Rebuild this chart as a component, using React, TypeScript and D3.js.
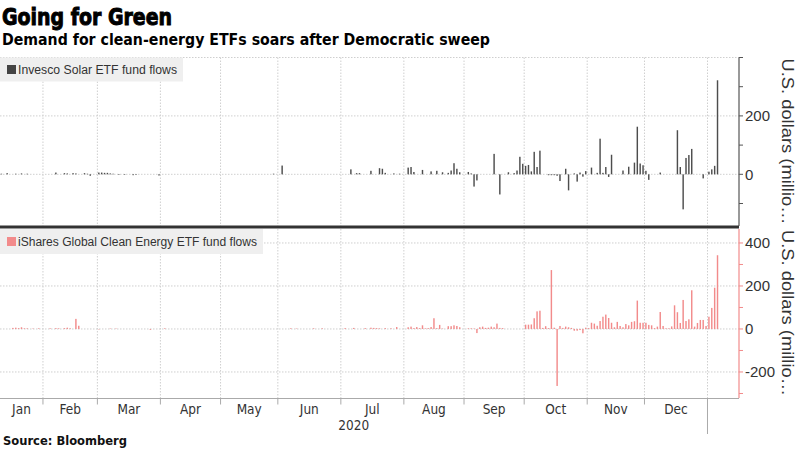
import { useRef, useEffect } from 'react';
import * as d3 from 'd3';

// US market holidays inside the charted range
const marketHolidays = [
  '2020-01-20', '2020-02-17', '2020-04-10', '2020-05-25', '2020-07-03',
  '2020-09-07', '2020-11-26', '2020-12-25', '2021-01-01', '2021-01-18',
];

const monthNames = ['Jan', 'Feb', 'Mar', 'Apr', 'May', 'Jun', 'Jul', 'Aug', 'Sep', 'Oct', 'Nov', 'Dec'];
const yearLabel = '2020';

// daily fund flows, US$ millions, one value per trading day from 2020-01-10
const solarFlows = [
  2, 0, 4, 0, 0, 2, 0, 3, 0, 2, 0, 0, 0, 0, 0, // Jan
  0, 0, 0, 0, 6, 0, 0, 4, 3, 0, 4, 3, 0, 0, 4, 2, -5, 0, 0, // Feb
  6, 6, 5, 5, 3, 2, 0, -2, 0, -2, 0, 0, -3, -2, 0, 0, 0, 0, 0, 0, 0, -4, // Mar
  0, 0, 0, 0, 0, 0, 0, 0, 0, 0, 0, 0, 0, 0, 0, 0, 0, 0, 0, 0, 0, // Apr
  0, 0, 0, 0, 0, 0, 0, 0, 0, 0, 0, 0, 0, 0, 0, 0, 0, 0, 2, 0, // May
  0, 30, 0, 0, 0, 0, 0, 0, 0, 0, 0, 0, 0, 0, 0, 0, 0, 0, 0, 0, 0, 0, // Jun
  0, 0, 0, 17, 0, 4, 4, 0, 0, 0, 12, 0, 0, 21, 19, 5, 0, 0, 3, 0, 2, 0, // Jul
  0, 23, 25, 8, 0, 0, 15, 0, 0, 10, 0, 12, 0, 7, 0, 5, 13, 38, 19, 7, 0, // Aug
  0, 8, 3, -42, -21, 0, 0, 0, 0, 0, 70, 0, -69, 0, 0, 7, 0, 4, 13, 60, 36, // Sep
  29, 32, 10, 77, 25, 81, 0, 0, -3, -3, -3, -5, -23, 0, 19, -55, 0, 3, -25, 6, -8, 11, // Oct
  0, 23, 0, 5, 122, 5, 25, -9, 67, 0, 0, 0, 13, 0, 26, 0, 40, 163, 37, 31, // Nov
  12, -19, 0, 0, 0, 6, 0, 0, 0, 0, 0, 151, 25, -120, 56, 66, 87, 0, 0, 0, -14, 0, // Dec
  9, 17, 29, 322, // Jan 2021
];

const cleanFlows = [
  0, 0, 0, 0, 5, 6, 4, 8, 3, 3, 0, 2, 0, 3, 0, // Jan
  0, 0, 3, 0, 4, 3, 0, 4, 6, 3, 0, 47, 15, 0, 0, 0, 0, 0, 0, // Feb
  -2, 0, 0, 0, 2, 0, 2, 0, 0, 0, 0, 0, 0, 0, 0, 0, 0, 0, -4, 0, 0, 0, // Mar
  0, 3, 0, 0, 0, 0, 0, 0, 0, 0, 0, 0, 0, 0, 0, 0, 0, 0, 0, 0, 0, // Apr
  0, 0, 0, 0, 0, 0, 0, 0, 0, 0, 0, 0, 0, 0, 0, 0, 0, 0, 0, 0, // May
  0, 0, 0, 0, 3, 0, 2, 0, 0, 0, 0, 0, 3, 0, 0, 3, 0, 0, 0, 0, 0, 0, // Jun
  0, 4, 0, 0, 5, 0, 0, 0, 4, 0, 6, 5, 4, 3, 0, 4, 0, 3, 0, 9, 0, 0, // Jul
  0, 8, 11, 4, 9, 4, 17, 3, 4, 9, 50, 4, 19, 2, 0, 13, 13, 17, 14, 8, 0, // Aug
  0, 3, 3, 2, -19, 8, 11, 5, 6, 11, 8, 25, 5, 4, 0, 0, 0, 0, 0, 0, 0, // Sep
  20, 20, 21, 50, 82, 85, 5, 13, 4, 274, 6, -265, 14, 5, 11, 8, 5, -8, -8, -5, -20, 6, // Oct
  4, 29, 25, 15, 37, 57, 67, 51, 29, 8, 33, 14, 8, 23, 17, 33, 36, 132, 29, 29, // Nov
  29, 19, 17, 4, 11, 79, 14, 3, 3, 12, 110, 78, 28, 135, 37, 45, 180, 11, 28, 42, 42, 14, // Dec
  57, 98, 192, 343, // Jan 2021
];

const solarTicks = [-100, 0, 100, 200, 300, 400];
const solarGrid = [0, 200, 400];
const solarLabels = [0, 200];
const cleanTicks = [-300, -200, -100, 0, 100, 200, 300, 400];
const cleanGrid = [-200, 0, 200, 400];
const cleanLabels = [-200, 0, 200, 400];

const FONT = "'Liberation Sans', Arial, sans-serif";
const HEAD = "'DejaVu Sans', 'Liberation Sans', sans-serif";
const NARROW = "'Liberation Sans Narrow', 'DejaVu Sans Condensed', 'Liberation Sans', sans-serif";

export default function App() {
  const svgRef = useRef<SVGSVGElement | null>(null);

  useEffect(() => {
    const width = 800, height = 450;
    const plotRight = 739;

    const svg = d3.select(svgRef.current);
    svg.selectAll('*').remove();
    svg.attr('width', width).attr('height', height).style('font-family', FONT);

    svg.append('rect').attr('width', width).attr('height', height).attr('fill', '#fff');

    // trading-day calendar
    const fmt = d3.utcFormat('%Y-%m-%d');
    const hol = new Set(marketHolidays);
    const days = d3.utcDays(new Date(Date.UTC(2020, 0, 10)), new Date(Date.UTC(2021, 0, 20)))
      .filter(d => d.getUTCDay() % 6 !== 0 && !hol.has(fmt(d)));
    const keys = days.map(fmt);

    const x = d3.scaleBand<string>()
      .domain(keys)
      .range([0, plotRight])
      .paddingInner(0.5)
      .paddingOuter(0.25);
    const step = x.step();
    const edge = (k: string) => (x(k) ?? 0) - step * 0.25;

    // month boundaries
    const monthStarts: { month: number; year: number; x: number }[] = [];
    days.forEach((d, i) => {
      if (i === 0 || d.getUTCMonth() !== days[i - 1].getUTCMonth()) {
        monthStarts.push({ month: d.getUTCMonth(), year: d.getUTCFullYear(), x: i === 0 ? 0 : edge(keys[i]) });
      }
    });

    // titles
    svg.append('text').attr('x', 2).attr('y', 25)
      .attr('font-family', HEAD)
      .style('font-size', '23px').style('font-weight', '700').attr('fill', '#000')
      .attr('stroke', '#000').attr('stroke-width', 1)
      .attr('textLength', 170).attr('lengthAdjust', 'spacingAndGlyphs')
      .text('Going for Green');
    svg.append('text').attr('x', 2).attr('y', 45)
      .attr('font-family', HEAD)
      .style('font-size', '16.5px').style('font-weight', '700').attr('fill', '#000')
      .attr('textLength', 488).attr('lengthAdjust', 'spacingAndGlyphs')
      .text('Demand for clean-energy ETFs soars after Democratic sweep');

    const panels = [
      {
        top: 57.5, bottom: 226, domain: [-177, 400], values: solarFlows,
        color: '#4d4d4d', axisColor: '#555555', legendColor: '#444',
        ticks: solarTicks, grid: solarGrid, labels: solarLabels,
        legend: 'Invesco Solar ETF fund flows', legendW: 183, legendH: 24, legendLen: 159,
      },
      {
        top: 229, bottom: 398, domain: [-321, 465], values: cleanFlows,
        color: '#f28b8b', axisColor: '#f28b8b', legendColor: '#f28b8b',
        ticks: cleanTicks, grid: cleanGrid, labels: cleanLabels,
        legend: 'iShares Global Clean Energy ETF fund flows', legendW: 263, legendH: 25, legendLen: 239,
      },
    ];

    panels.forEach(p => {
      const y = d3.scaleLinear().domain(p.domain).range([p.bottom, p.top]);
      const g = svg.append('g');

      // vertical month gridlines
      g.selectAll('line.vgrid')
        .data(monthStarts.slice(1))
        .join('line')
        .attr('x1', d => d.x).attr('x2', d => d.x)
        .attr('y1', p.top).attr('y2', p.bottom)
        .attr('stroke', '#cfcfcf').attr('stroke-dasharray', '1.5,1.5');

      // horizontal gridlines
      g.selectAll('line.hgrid')
        .data(p.grid)
        .join('line')
        .attr('x1', 0).attr('x2', plotRight)
        .attr('y1', d => y(d)).attr('y2', d => y(d))
        .attr('stroke', '#cfcfcf').attr('stroke-dasharray', '1.5,1.5');

      // bars
      const y0 = y(0);
      g.selectAll('rect.bar')
        .data(p.values.map((v, i) => ({ k: keys[i], v })).filter(d => d.v !== 0))
        .join('rect')
        .attr('x', d => x(d.k) ?? 0)
        .attr('width', x.bandwidth())
        .attr('y', d => Math.min(y(d.v), y0))
        .attr('height', d => Math.abs(y(d.v) - y0))
        .attr('fill', p.color);

      // right axis
      g.append('line')
        .attr('x1', plotRight).attr('x2', plotRight)
        .attr('y1', p.top).attr('y2', p.bottom)
        .attr('stroke', p.axisColor).attr('stroke-width', 1.2);
      g.selectAll('line.tick')
        .data(p.ticks)
        .join('line')
        .attr('x1', plotRight).attr('x2', plotRight + 4)
        .attr('y1', d => y(d)).attr('y2', d => y(d))
        .attr('stroke', p.axisColor);
      g.selectAll('text.tl')
        .data(p.labels)
        .join('text')
        .attr('x', plotRight + 6)
        .attr('y', d => y(d))
        .attr('dy', '0.36em')
        .attr('font-size', 15)
        .attr('fill', '#333')
        .text(d => (d < 0 ? '-' : '') + Math.abs(d));

      // axis title
      g.append('text')
        .attr('transform', `translate(782,${p.top + 1}) rotate(90)`)
        .attr('font-size', 17)
        .attr('fill', '#333')
        .attr('textLength', 166).attr('lengthAdjust', 'spacingAndGlyphs')
        .text('U.S. dollars (millio…');

      // legend
      g.append('rect')
        .attr('x', 0).attr('y', p.top)
        .attr('width', p.legendW).attr('height', p.legendH)
        .attr('fill', '#efefef');
      g.append('rect')
        .attr('x', 7).attr('y', p.top + p.legendH / 2 - 4.5)
        .attr('width', 9).attr('height', 9)
        .attr('fill', p.legendColor);
      g.append('text')
        .attr('x', 18).attr('y', p.top + p.legendH / 2)
        .attr('dy', '0.36em')
        .attr('font-size', 12.5).attr('fill', '#333')
        .attr('textLength', p.legendLen).attr('lengthAdjust', 'spacingAndGlyphs')
        .text(p.legend);
    });

    // separator between panels
    svg.append('line')
      .attr('x1', 0).attr('x2', plotRight)
      .attr('y1', 227).attr('y2', 227)
      .attr('stroke', '#333').attr('stroke-width', 3);

    // bottom time axis
    const axisY = 398.5;
    svg.append('line')
      .attr('x1', 0).attr('x2', plotRight)
      .attr('y1', axisY).attr('y2', axisY)
      .attr('stroke', '#aaa');
    svg.selectAll('line.mtick')
      .data(monthStarts.slice(1))
      .join('line')
      .attr('x1', d => d.x).attr('x2', d => d.x)
      .attr('y1', axisY).attr('y2', d => (d.month === 0 ? 434 : axisY + 6))
      .attr('stroke', '#aaa');

    const labelled = monthStarts.filter(m => m.year === 2020);
    svg.selectAll('text.month')
      .data(labelled)
      .join('text')
      .attr('x', (d, i) => (d.x + monthStarts[i + 1].x) / 2)
      .attr('y', 414)
      .attr('text-anchor', 'middle')
      .attr('font-size', 13.5)
      .attr('font-family', NARROW)
      .attr('fill', '#333')
      .text(d => monthNames[d.month]);

    const yearEnd = monthStarts[monthStarts.length - 1].x;
    svg.append('text')
      .attr('x', yearEnd / 2).attr('y', 430)
      .attr('text-anchor', 'middle')
      .attr('font-size', 13.5)
      .attr('font-family', NARROW)
      .attr('fill', '#333')
      .text(yearLabel);

    svg.append('text')
      .attr('x', 3).attr('y', 445)
      .attr('font-family', HEAD)
      .style('font-size', '12px').style('font-weight', '700').attr('fill', '#111')
      .attr('textLength', 124).attr('lengthAdjust', 'spacingAndGlyphs')
      .text('Source: Bloomberg');
  }, []);

  return <svg ref={svgRef} style={{ position: 'absolute', left: 0, top: 0, display: 'block' }}></svg>;
}
